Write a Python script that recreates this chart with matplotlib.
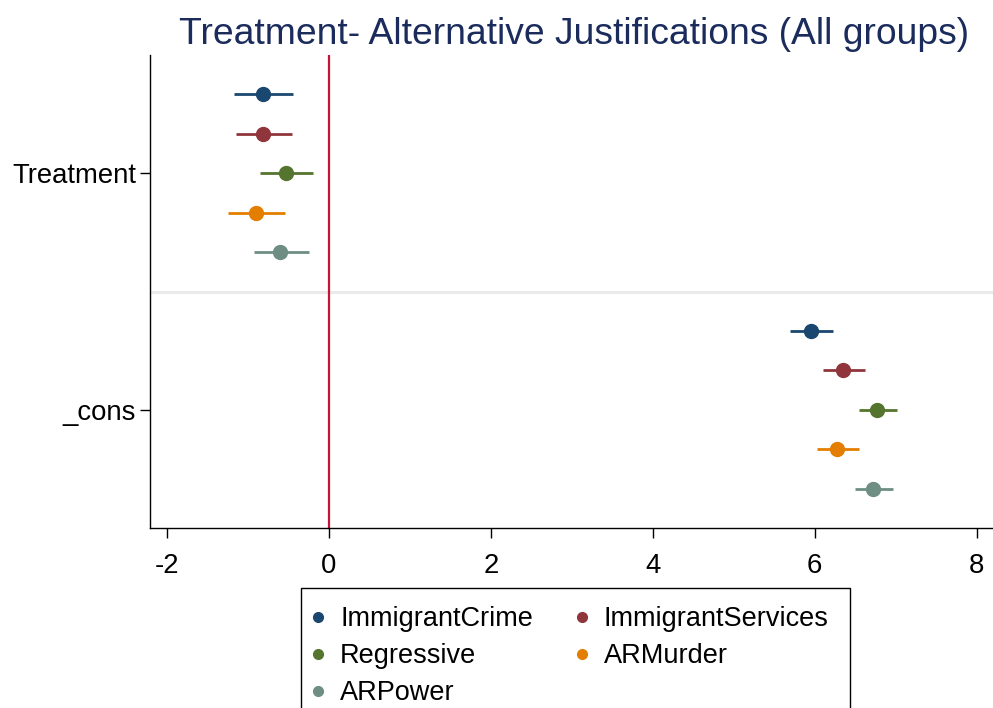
import numpy as np
import matplotlib.pyplot as plt
from matplotlib.lines import Line2D
from matplotlib.patches import Rectangle

plt.rcParams['font.family'] = ['Liberation Sans', 'DejaVu Sans']
plt.rcParams['axes.unicode_minus'] = False

# Coefficient estimates with 95% CIs, one model per outcome
models = ["ImmigrantCrime", "ImmigrantServices", "Regressive", "ARMurder", "ARPower"]
colors = ["#1a476f", "#90353b", "#55752f", "#e37e00", "#6e8e84"]
terms = ["Treatment", "_cons"]

coef_treat = [-0.81, -0.81, -0.53, -0.90, -0.60]
lo_treat = [-1.17, -1.15, -0.85, -1.25, -0.92]
hi_treat = [-0.44, -0.45, -0.20, -0.54, -0.25]

coef_cons = [5.95, 6.35, 6.77, 6.28, 6.72]
lo_cons = [5.69, 6.10, 6.55, 6.03, 6.50]
hi_cons = [6.22, 6.62, 7.01, 6.54, 6.97]

coefs = [coef_treat, coef_cons]
los = [lo_treat, lo_cons]
his = [hi_treat, hi_cons]

fig = plt.figure(figsize=(9.93, 7.08), dpi=100)
ax = fig.add_axes([150 / 993, 1 - 528 / 708, 1 - 150 / 993, (528 - 55) / 708])

offsets = (np.arange(len(models)) - 2) / 6.0

ax.axhline(1.5, color="#eaeaea", lw=2.2, zorder=0)
ax.axvline(0, color="#c4143c", lw=1.6, zorder=1)

for t in range(len(terms)):
    for i, m in enumerate(models):
        y = t + 1 + offsets[i]
        ax.plot([los[t][i], his[t][i]], [y, y], color=colors[i], lw=2.0,
                solid_capstyle="butt", zorder=2)
        ax.plot(coefs[t][i], y, "o", color=colors[i], ms=10, zorder=3)

ax.set_xlim(-2.207, 8.2)
ax.set_ylim(2.5, 0.5)
ax.set_xticks([-2, 0, 2, 4, 6, 8])
ax.set_yticks([1, 2])
ax.set_yticklabels(terms)

for s in ["top", "right"]:
    ax.spines[s].set_visible(False)
for s in ["left", "bottom"]:
    ax.spines[s].set_linewidth(1.0)
ax.tick_params(axis="both", labelsize=19.8, length=7, width=1.0, direction="out")
ax.tick_params(axis="x", pad=11)
ax.tick_params(axis="y", pad=3)

fig.text(574 / 993, 1 - 34 / 708, "Treatment- Alternative Justifications (All groups)",
         ha="center", va="center", fontsize=26.8, color="#1a2b5c")

# legend box, open at the bottom edge of the figure
fig.patches.append(Rectangle((301 / 993, -0.05), (850 - 301) / 993, 0.05 + (708 - 588) / 708,
                             transform=fig.transFigure, fill=False,
                             edgecolor="black", lw=1.0))

# row-wise order: matplotlib fills legend columns first
order = [0, 2, 4, 1, 3]
handles = [Line2D([], [], ls="none", marker="o", ms=7, color=colors[k]) for k in order]
fig.legend(handles, [models[k] for k in order], ncol=2, loc="upper left",
           bbox_to_anchor=(307 / 993, 1 - 606 / 708), fontsize=19.5,
           frameon=False, borderpad=0, labelspacing=0.41, handletextpad=0.42,
           handlelength=0.8, columnspacing=1.4, borderaxespad=0)

fig.savefig("out.png", dpi=100)
